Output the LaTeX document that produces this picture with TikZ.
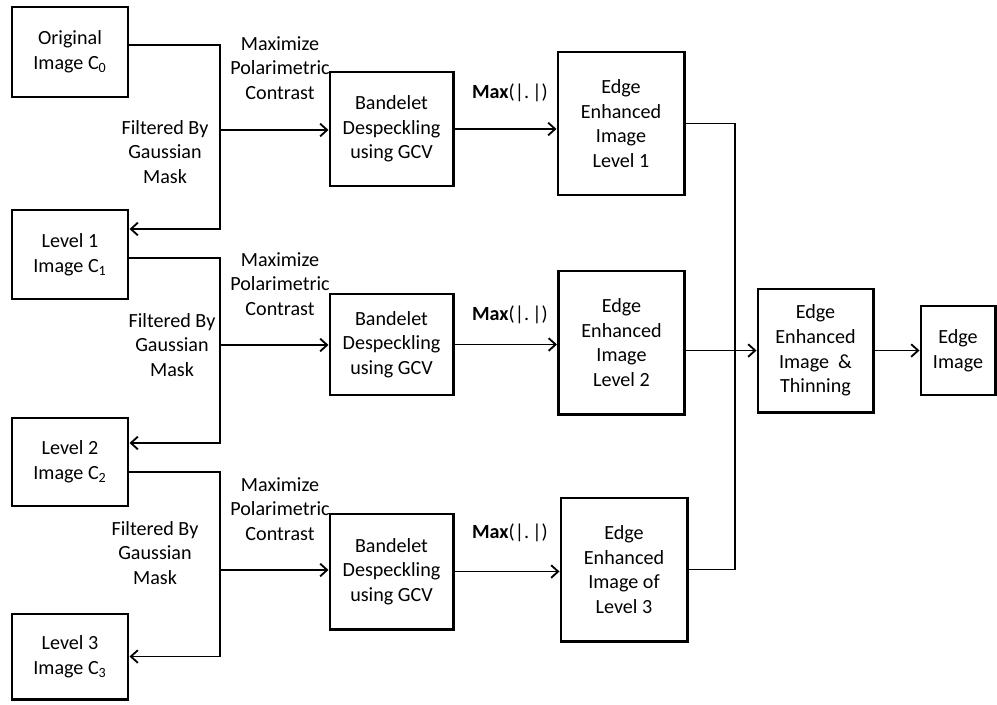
\documentclass[tikz,border=0pt]{standalone}
\usepackage{fontspec}
\setmainfont{Carlito}
\usetikzlibrary{arrows.meta}
\begin{document}
\begin{tikzpicture}[x=0.025cm,y=-0.025cm,
    box/.style={draw,line width=2.1pt,inner sep=0pt,align=center},
    arr/.style={line width=1.4pt,-{Straight Barb[length=5pt,width=9pt,line width=1.3pt]}},
    lin/.style={line width=1.4pt},
    lbl/.style={align=center,inner sep=0pt}]
  \useasboundingbox (0,0) rectangle (997,704);
  \fontsize{14.3}{17.5}\selectfont
  % pyramid levels
  \node[box,minimum width=2.9cm,minimum height=2.25cm] (c0) at (70,52) {Original\\Image C\textsubscript{0}};
  \node[box,minimum width=2.9cm,minimum height=2.225cm] (c1) at (70,254.5) {Level 1\\Image C\textsubscript{1}};
  \node[box,minimum width=2.9cm,minimum height=2.2cm] (c2) at (70,462) {Level 2\\Image C\textsubscript{2}};
  \node[box,minimum width=2.9cm,minimum height=2.125cm] (c3) at (70,656.5) {Level 3\\Image C\textsubscript{3}};
  % despeckling
  \node[box,minimum width=3.075cm,minimum height=2.85cm] (b1) at (391.5,129) {Bandelet\\Despeckling\\using GCV};
  \node[box,minimum width=3.075cm,minimum height=2.525cm] (b2) at (391.5,344.5) {Bandelet\\Despeckling\\using GCV};
  \node[box,minimum width=3.075cm,minimum height=2.875cm] (b3) at (391.5,571.5) {Bandelet\\Despeckling\\using GCV};
  % edge images
  \node[box,minimum width=3.15cm,minimum height=3.575cm] (e1) at (621,123.5) {Edge\\Enhanced\\Image\\Level 1};
  \node[box,minimum width=3.15cm,minimum height=3.575cm] (e2) at (621.5,342.5) {Edge\\Enhanced\\Image\\Level 2};
  \node[box,minimum width=3.15cm,minimum height=3.575cm] (e3) at (624,569.5) {Edge\\Enhanced\\Image of\\Level 3};
  \node[box,minimum width=2.875cm,minimum height=3.075cm] (thin) at (815.5,350.5) {Edge\\Enhanced\\Image~~\&\\Thinning};
  \node[box,minimum width=1.85cm,minimum height=2.225cm] (out) at (958,350.5) {Edge\\Image};
  % labels
  \node[lbl] (m1) at (280,68) {Maximize\\Polarimetric\\Contrast};
  \node[lbl] (m2) at (280,284) {Maximize\\Polarimetric\\Contrast};
  \node[lbl] (m3) at (280,509) {Maximize\\Polarimetric\\Contrast};
  \node[lbl] (f1) at (165,152) {Filtered By\\Gaussian\\Mask};
  \node[lbl] (f2) at (172,345) {Filtered By\\Gaussian\\Mask};
  \node[lbl] (f3) at (155,553) {Filtered By\\Gaussian\\Mask};
  \node[lbl] (x1) at (510,93) {\textbf{Max}(|.\,|)};
  \node[lbl] (x2) at (510,315) {\textbf{Max}(|.\,|)};
  \node[lbl] (x3) at (510,533) {\textbf{Max}(|.\,|)};
  % junctions
  \coordinate (j1) at (220,130);
  \coordinate (j2) at (220,345);
  \coordinate (j3) at (220,570);
  \coordinate (bus) at (735,350);
  \draw[arr] ([yshift=0.175cm]c0.east) -| (j1) |- ([yshift=0.6375cm]c1.east);
  \draw[arr] ([yshift=-0.0875cm]c1.east) -| (j2) |- ([yshift=0.475cm]c2.east);
  \draw[arr] ([yshift=-0.25cm]c2.east) -| (j3) |- (c3.east);
  \draw[arr] (j1) -- (j1 -| b1.west);
  \draw[arr] (j2) -- (j2 -| b2.west);
  \draw[arr] (j3) -- (j3 -| b3.west);
  \draw[arr] (b1.east) -- (b1 -| e1.west);
  \draw[arr] (b2.east) -- (b2 -| e2.west);
  \draw[arr] (b3.east) -- (b3 -| e3.west);
  \draw[lin] (e1.east) -| (bus) |- (e3.east);
  \draw[arr] (e2.east |- thin) -- (thin.west);
  \draw[arr] (thin.east) -- (out.west);
\end{tikzpicture}
\end{document}
